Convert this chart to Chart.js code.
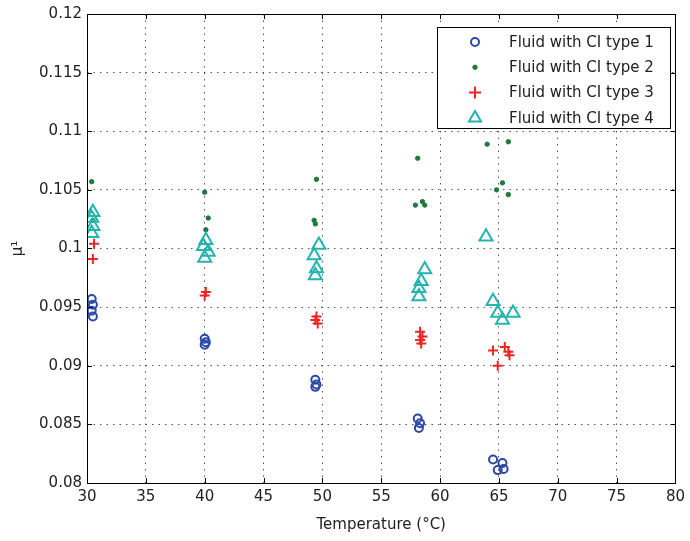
<!DOCTYPE html>
<html>
<head>
<meta charset="utf-8">
<title>Atrito x Temperatura</title>
<script src="https://cdn.jsdelivr.net/npm/chart.js@4.4.1/dist/chart.umd.min.js"></script>
<style>
    html, body { margin: 0; padding: 0; background: #ffffff; }
    #wrap { width: 690px; height: 541px; }
</style>
</head>
<body>
<div id="wrap"><canvas id="grafico" width="690" height="541"></canvas></div>
<script>
// ========================================
// DADOS
// ========================================
const seriesLabels = ['Fluid with CI type 1', 'Fluid with CI type 2', 'Fluid with CI type 3', 'Fluid with CI type 4'];

const temp1 = [30.4, 30.5, 30.4, 30.5, 40.0, 40.1, 40.0, 49.4, 49.5, 49.4, 58.1, 58.3, 58.2, 64.5, 65.3, 64.9, 65.4];
const mu1   = [0.0957, 0.0952, 0.0947, 0.0942, 0.0923, 0.0920, 0.0918, 0.0888, 0.0884, 0.0882, 0.0855, 0.0851, 0.0847, 0.0820, 0.0817, 0.0811, 0.0812];

const temp2 = [30.4, 30.5, 40.0, 40.3, 40.1, 49.5, 49.3, 49.4, 58.1, 57.9, 58.5, 58.7, 64.0, 65.8, 65.3, 64.8, 65.8];
const mu2   = [0.1057, 0.1024, 0.1048, 0.1026, 0.1016, 0.1059, 0.1024, 0.1021, 0.1077, 0.1037, 0.1040, 0.1037, 0.1089, 0.1091, 0.1056, 0.1050, 0.1046];

const temp3 = [30.6, 30.5, 40.1, 40.0, 49.5, 49.4, 49.6, 58.3, 58.5, 58.3, 58.4, 64.5, 65.5, 65.8, 65.9, 64.9];
const mu3   = [0.1004, 0.0991, 0.0963, 0.0960, 0.0942, 0.0939, 0.0936, 0.0929, 0.0925, 0.0922, 0.0919, 0.0913, 0.0916, 0.0912, 0.0909, 0.0900];

const temp4 = [30.5, 30.4, 30.5, 30.4, 40.1, 39.9, 40.3, 40.0, 49.7, 49.3, 49.5, 49.4, 58.7, 58.4, 58.2, 58.2, 63.9, 64.5, 64.9, 66.2, 65.3];
const mu4   = [0.1031, 0.1026, 0.1019, 0.1013, 0.1007, 0.1002, 0.0997, 0.0992, 0.1003, 0.0994, 0.0983, 0.0977, 0.0982, 0.0972, 0.0966, 0.0959, 0.1010, 0.0955, 0.0945, 0.0945, 0.0939];

const xTicks = [30, 35, 40, 45, 50, 55, 60, 65, 70, 75, 80];
const yTicks = [0.08, 0.085, 0.09, 0.095, 0.1, 0.105, 0.11, 0.115, 0.12];

const FONTE = 'DejaVu Sans, Liberation Sans, Arial, sans-serif';
const COR_TEXTO = '#222222';

// ========================================
// FUNÇÕES AUXILIARES
// ========================================
function pares(xs, ys) {
    return xs.map((x, i) => ({ x: x, y: ys[i] }));
}

function fixarTicks(lista) {
    return function(scale) {
        scale.ticks = lista.map(v => ({ value: v }));
    };
}

// caixa dos eixos + marcas internas + legenda com borda
const molduraPlugin = {
    id: 'moldura',
    afterDatasetsDraw(chart) {
        const ctx = chart.ctx;
        const a = chart.chartArea;
        const sx = chart.scales.x;
        const sy = chart.scales.y;
        const tam = 5;

        ctx.save();
        ctx.strokeStyle = '#000000';
        ctx.lineWidth = 1;
        ctx.setLineDash([]);

        ctx.beginPath();
        xTicks.forEach(v => {
            const px = Math.round(sx.getPixelForValue(v)) + 0.5;
            ctx.moveTo(px, a.bottom); ctx.lineTo(px, a.bottom - tam);
            ctx.moveTo(px, a.top); ctx.lineTo(px, a.top + tam);
        });
        yTicks.forEach(v => {
            const py = Math.round(sy.getPixelForValue(v)) + 0.5;
            ctx.moveTo(a.left, py); ctx.lineTo(a.left + tam, py);
            ctx.moveTo(a.right, py); ctx.lineTo(a.right - tam, py);
        });
        ctx.stroke();

        ctx.strokeRect(Math.round(a.left) + 0.5, Math.round(a.top) + 0.5,
                       Math.round(a.right - a.left), Math.round(a.bottom - a.top));

        // legenda
        const lx = 437, ly = 27, lw = 233, lh = 101;
        ctx.fillStyle = '#ffffff';
        ctx.fillRect(lx, ly, lw, lh);
        ctx.strokeRect(lx + 0.5, ly + 0.5, lw, lh);

        ctx.font = '15px ' + FONTE;
        ctx.textBaseline = 'middle';
        ctx.textAlign = 'left';
        chart.data.datasets.forEach((ds, i) => {
            const cy = ly + 15 + i * 25.3;
            ctx.fillStyle = ds.backgroundColor;
            ctx.strokeStyle = ds.borderColor;
            ctx.lineWidth = ds.borderWidth;
            Chart.helpers.drawPoint(ctx, {
                pointStyle: ds.pointStyle,
                radius: ds.legendRadius,
                borderWidth: ds.borderWidth,
                rotation: 0
            }, 475, cy);
            ctx.fillStyle = COR_TEXTO;
            ctx.fillText(ds.label, 509, cy + 1);
        });
        ctx.restore();
    }
};

// ========================================
// GRÁFICO
// ========================================
const grafico = new Chart(document.getElementById('grafico'), {
    type: 'scatter',
    data: {
        datasets: [
            {
                label: seriesLabels[0],
                data: pares(temp1, mu1),
                pointStyle: 'circle',
                pointRadius: 4,
                legendRadius: 4,
                borderWidth: 2,
                borderColor: '#2b48a6',
                backgroundColor: 'rgba(0,0,0,0)',
                order: 4
            },
            {
                label: seriesLabels[1],
                data: pares(temp2, mu2),
                pointStyle: 'circle',
                pointRadius: 2.2,
                legendRadius: 2.2,
                borderWidth: 1,
                borderColor: '#1c7a3a',
                backgroundColor: '#1c7a3a',
                order: 3
            },
            {
                label: seriesLabels[2],
                data: pares(temp3, mu3),
                pointStyle: 'cross',
                pointRadius: 5,
                legendRadius: 6,
                borderWidth: 2,
                borderColor: '#ee2525',
                backgroundColor: '#ee2525',
                order: 2
            },
            {
                label: seriesLabels[3],
                data: pares(temp4, mu4),
                pointStyle: 'triangle',
                pointRadius: 7.5,
                legendRadius: 7,
                borderWidth: 2,
                borderColor: '#24b4b0',
                backgroundColor: 'rgba(0,0,0,0)',
                order: 1
            }
        ]
    },
    options: {
        responsive: false,
        animation: false,
        layout: { padding: { top: 14, right: 7, left: 0, bottom: 0 } },
        plugins: {
            legend: { display: false },
            tooltip: { enabled: false }
        },
        scales: {
            x: {
                type: 'linear',
                min: 30,
                max: 80,
                afterBuildTicks: fixarTicks(xTicks),
                afterFit(scale) { scale.height = 58; },
                grid: { color: '#555555', lineWidth: 1, drawTicks: false },
                border: { display: false, dash: [1.5, 5] },
                ticks: {
                    color: COR_TEXTO,
                    padding: 5,
                    maxRotation: 0,
                    font: { family: FONTE, size: 15 },
                    callback: v => String(v)
                },
                title: {
                    display: true,
                    text: 'Temperature (°C)',
                    color: COR_TEXTO,
                    font: { family: FONTE, size: 15 },
                    padding: { top: 0, bottom: 7 }
                }
            },
            y: {
                type: 'linear',
                min: 0.08,
                max: 0.12,
                afterBuildTicks: fixarTicks(yTicks),
                afterFit(scale) { scale.width = 87; },
                grid: { color: '#555555', lineWidth: 1, drawTicks: false },
                border: { display: false, dash: [1.5, 5] },
                ticks: {
                    color: COR_TEXTO,
                    padding: 5,
                    font: { family: FONTE, size: 15 },
                    callback: v => String(+v.toFixed(3))
                },
                title: {
                    display: true,
                    text: 'μ¹',
                    color: COR_TEXTO,
                    font: { family: FONTE, size: 15 },
                    padding: { top: 9, bottom: 0 }
                }
            }
        }
    },
    plugins: [molduraPlugin]
});
</script>
</body>
</html>
